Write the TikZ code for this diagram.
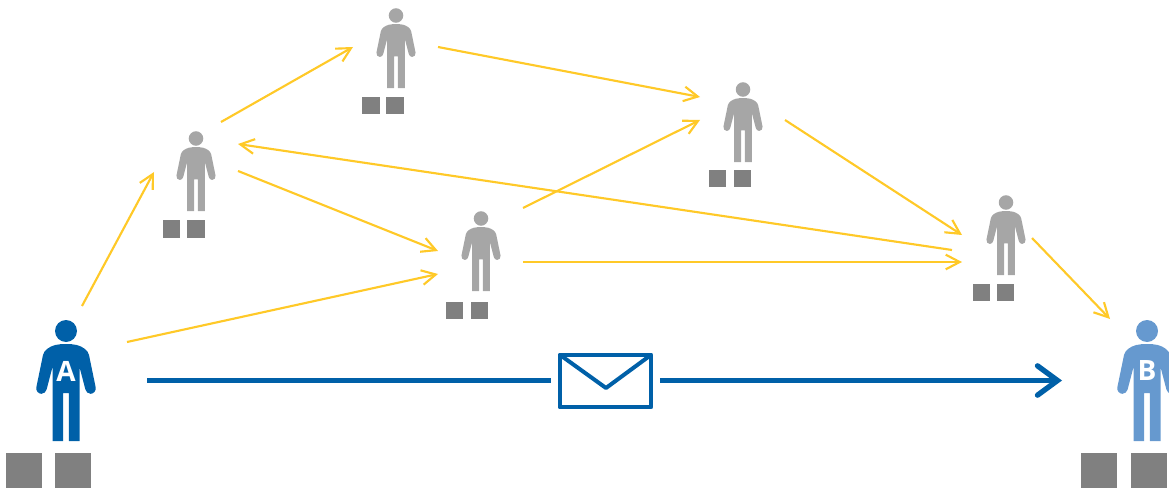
\documentclass[tikz,border=0pt]{standalone}
\usepackage{fontspec}
\setsansfont{Open Sans}
\usetikzlibrary{arrows.meta}

\definecolor{msgblue}{HTML}{0060A8}
\definecolor{lightblue}{HTML}{6699CF}
\definecolor{relaygrey}{HTML}{A6A6A6}
\definecolor{keygrey}{HTML}{808080}
\definecolor{hopyellow}{HTML}{FFC928}

\tikzset{
  pics/person/.style={code={
    \fill[pic actions,yscale=-1] (0,0) circle (11);
    \fill[pic actions,yscale=-1] (0,13) .. controls (8,13) and (14,14) .. (19,18) .. controls (21,19.5) and (22.5,22) .. (23,24) -- (29.6,56)
      .. controls (30.4,60) and (27.5,62.8) .. (24.6,62.8) .. controls (22,62.8) and (20,60.8) .. (19.4,58.5) -- (13.5,36)
      -- (13.5,110) -- (2.9,110) -- (2.9,62) -- (-2.9,62) -- (-2.9,110) -- (-13.5,110) -- (-13.5,36) -- (-19.4,58.5)
      .. controls (-20,60.8) and (-22,62.8) .. (-24.6,62.8) .. controls (-27.5,62.8) and (-30.4,60) .. (-29.6,56)
      -- (-23,24) .. controls (-22.5,22) and (-21,19.5) .. (-19,18) .. controls (-14,14) and (-8,13) .. (0,13) -- cycle ;
  }},
  relay/.style={fill=relaygrey,scale=0.66},
  keysmall/.style={fill=keygrey,inner sep=0pt,minimum size=13.2pt},
  keybig/.style={fill=keygrey,inner sep=0pt,minimum size=27pt},
  hop/.style={draw=hopyellow,line width=1.6pt,-{Straight Barb[length=10.5pt,width=11pt]}},
  direct/.style={draw=msgblue,line width=4pt},
  tag/.style={text=white,inner sep=0pt,font=\sffamily\bfseries\fontsize{21}{21}\selectfont},
}

\begin{document}
\begin{tikzpicture}[x=0.75pt,y=0.75pt,yscale=-1,xscale=1]
\clip (0,0) rectangle (1169,488);

% People
\pic (pa) at (66,331) [fill=msgblue] {person};
\pic (pb) at (1147,331) [fill=lightblue] {person};
\pic (p1) at (196,138.5) [relay] {person};
\pic (p2) at (396,15.5) [relay] {person};
\pic (p3) at (481,218.5) [relay] {person};
\pic (p4) at (743,89.5) [relay] {person};
\pic (p5) at (1006,202.5) [relay] {person};

% Text Node
\node [tag] (taga) at (66,371) {A};
% Text Node
\node [tag] (tagb) at (1147,371) {B};

% Key squares
\foreach \name/\xa/\xb/\ya in {k1/171.5/196/229, k2/371/395/105.5, k3/454.5/479.5/310.5, k4/717.5/742.5/178.5, k5/981.5/1005.5/292.5} {
  \node [keysmall] (\name l) at (\xa,\ya) {};
  \node [keysmall] (\name r) at (\xb,\ya) {};
}
\foreach \name/\xa/\xb in {ka/24/73, kb/1098.5/1148.5} {
  \node [keybig] (\name l) at (\xa,471) {};
  \node [keybig] (\name r) at (\xb,471) {};
}

% Arrow ends
\coordinate (aup) at (82,306);
\coordinate (aright) at (127,342);
\coordinate (p1in) at (154,172);
\coordinate (p1up) at (221,122);
\coordinate (p1right) at (238,171);
\coordinate (p1back) at (238,144);
\coordinate (p2in) at (353,47);
\coordinate (p2out) at (438,47);
\coordinate (p3upper) at (438,251);
\coordinate (p3lower) at (438,274);
\coordinate (p3up) at (523,208);
\coordinate (p3right) at (523,262);
\coordinate (p4upper) at (700,97);
\coordinate (p4lower) at (700,120);
\coordinate (p4out) at (785,120);
\coordinate (p5upper) at (962,235);
\coordinate (p5back) at (952,250);
\coordinate (p5lower) at (962,262);
\coordinate (p5out) at (1032,238);
\coordinate (bin) at (1110,319);

%Straight Lines
\draw [hop] (aup) -- (p1in) ;
\draw [hop] (aright) -- (p3lower) ;
\draw [hop] (p1up) -- (p2in) ;
\draw [hop] (p1right) -- (p3upper) ;
\draw [hop] (p2out) -- (p4upper) ;
\draw [hop] (p3up) -- (p4lower) ;
\draw [hop] (p3right) -- (p5lower) ;
\draw [hop] (p4out) -- (p5upper) ;
\draw [hop] (p5back) -- (p1back) ;
\draw [hop] (p5out) -- (bin) ;

% Envelope
\node [draw=msgblue,line width=3pt,line join=round,inner sep=0pt,outer sep=0pt,minimum width=68.6pt,minimum height=39.4pt] (mail) at (605.5,381) {};
\coordinate (flap) at (606,388);
\draw [msgblue,line width=3pt,line join=round] (mail.north west) -- (flap) -- (mail.north east) ;

% Direct message
\coordinate (msgstart) at (147,380.5);
\coordinate (msgend) at (1062,380.5);
\draw [direct,shorten >=6.5pt] (msgstart) -- (mail.west |- msgstart) ;
\draw [direct,shorten <=6.5pt,line cap=butt,-{Straight Barb[length=15pt,width=22pt,line cap=round]}] (mail.east |- msgstart) -- (msgend) ;

\end{tikzpicture}
\end{document}
